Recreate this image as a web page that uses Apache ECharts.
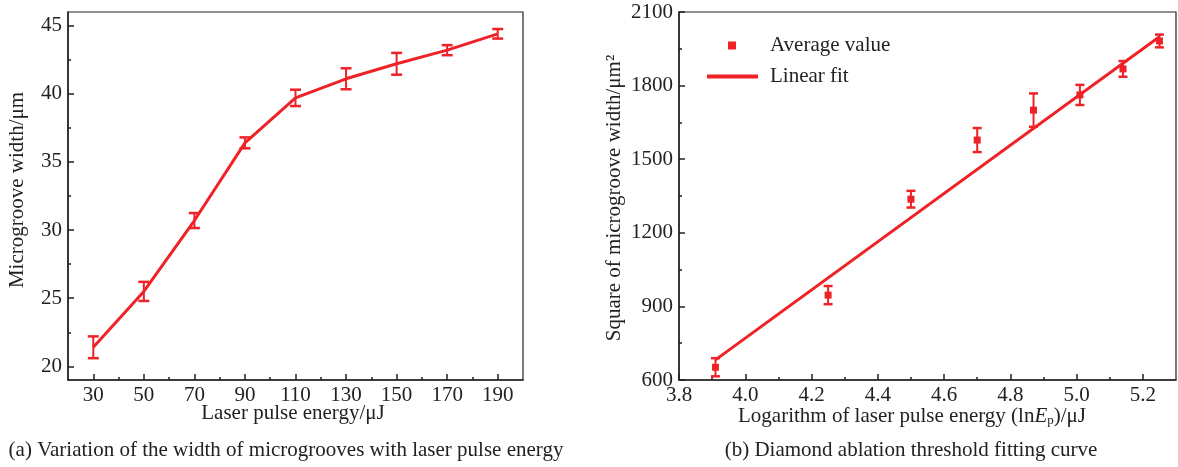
<!DOCTYPE html>
<html>
<head>
<meta charset="utf-8">
<script src="https://cdn.jsdelivr.net/npm/echarts@6.0.0/dist/echarts.min.js"></script>
<style>
html, body { margin: 0; padding: 0; background: #fff; }
#main { width: 1178px; height: 467px; }
</style>
</head>
<body>
<div id="main"></div>
<script>
// (a) width vs pulse energy
var energy = [30, 50, 70, 90, 110, 130, 150, 170, 190];
var grooveWidth = [21.4, 25.5, 30.7, 36.4, 39.7, 41.1, 42.2, 43.2, 44.4];
var grooveErr = [0.8, 0.7, 0.55, 0.4, 0.6, 0.77, 0.8, 0.37, 0.35];

// (b) squared width vs ln(E)
var lnEnergy = [3.91, 4.25, 4.50, 4.70, 4.87, 5.01, 5.14, 5.25];
var widthSq = [652, 946, 1337, 1578, 1700, 1762, 1868, 1982];
var widthSqErr = [37, 37, 34, 49, 68, 41, 32, 26];
var fitX = [3.91, 5.25];
var fitY = [682, 1999];

// ticks
var xTicksA = [30, 50, 70, 90, 110, 130, 150, 170, 190];
var xMinorA = [40, 60, 80, 100, 120, 140, 160, 180];
var yTicksA = [20, 25, 30, 35, 40, 45];
var yMinorA = [22.5, 27.5, 32.5, 37.5, 42.5];
var xTicksB = [3.8, 4.0, 4.2, 4.4, 4.6, 4.8, 5.0, 5.2];
var xMinorB = [3.9, 4.1, 4.3, 4.5, 4.7, 4.9, 5.1];
var yTicksB = [600, 900, 1200, 1500, 1800, 2100];
var yMinorB = [750, 1050, 1350, 1650, 1950];

var red = '#ee2227';
var ink = '#222';
var font = 'Liberation Serif';
var fs = 21;

var myChart = echarts.init(document.getElementById('main'));

function pairs(xs, ys) {
    return xs.map(function (x, i) { return [x, ys[i]]; });
}
function errData(xs, ys, es) {
    return xs.map(function (x, i) { return [x, ys[i] - es[i], ys[i] + es[i]]; });
}

function errorBars(capHalf) {
    return function (params, api) {
        var x = api.value(0);
        var lo = api.coord([x, api.value(1)]);
        var hi = api.coord([x, api.value(2)]);
        var st = { stroke: red, lineWidth: 2 };
        var cap = { stroke: red, lineWidth: 2.5 };
        return {
            type: 'group',
            children: [
                { type: 'line', shape: { x1: lo[0], y1: lo[1], x2: hi[0], y2: hi[1] }, style: st },
                { type: 'line', shape: { x1: lo[0] - capHalf, y1: lo[1], x2: lo[0] + capHalf, y2: lo[1] }, style: cap },
                { type: 'line', shape: { x1: hi[0] - capHalf, y1: hi[1], x2: hi[0] + capHalf, y2: hi[1] }, style: cap }
            ]
        };
    };
}

// main axis (labels + major ticks) and a twin for the minor ticks
function axisPair(dim, grid, min, max, majors, minors, fmt) {
    var pos = dim === 'x' ? 'bottom' : 'left';
    var main = {
        type: 'value', gridIndex: grid, position: pos, min: min, max: max,
        axisLine: { show: true, lineStyle: { color: ink, width: 1.5 } },
        axisTick: { show: true, inside: true, length: 6, customValues: majors, lineStyle: { color: ink, width: 1.5 } },
        axisLabel: { customValues: majors, color: ink, fontFamily: font, fontSize: fs, margin: dim === 'x' ? 5 : 6, formatter: fmt },
        splitLine: { show: false }
    };
    var minor = {
        type: 'value', gridIndex: grid, position: pos, offset: 0, min: min, max: max,
        axisLine: { show: false },
        axisTick: { show: true, inside: true, length: 3, customValues: minors, lineStyle: { color: ink, width: 1.5 } },
        axisLabel: { show: false },
        splitLine: { show: false }
    };
    return [main, minor];
}

var plain = function (v) { return String(v); };
var xa = axisPair('x', 0, 20, 200, xTicksA, xMinorA, plain);
var ya = axisPair('y', 0, 19, 46, yTicksA, yMinorA, plain);
var xb = axisPair('x', 1, 3.8, 5.3, xTicksB, xMinorB, function (v) { return v.toFixed(1); });
var yb = axisPair('y', 1, 600, 2100, yTicksB, yMinorB, plain);

var textStyle = { fill: ink, font: fs + 'px "Liberation Serif"', textAlign: 'center', textVerticalAlign: 'middle' };
function label(text, x, y, rot, extra) {
    var st = Object.assign({ text: text }, textStyle, extra || {});
    return { type: 'text', x: x, y: y, rotation: rot || 0, style: st, z: 10 };
}

option = {
    animation: false,
    backgroundColor: '#fff',
    grid: [
        { left: 68, top: 12, width: 455, height: 368, show: true, borderColor: ink, borderWidth: 1.2 },
        { left: 679, top: 12, width: 497, height: 368, show: true, borderColor: ink, borderWidth: 1.2 }
    ],
    xAxis: [xa[0], xa[1], xb[0], xb[1]],
    yAxis: [ya[0], ya[1], yb[0], yb[1]],
    legend: [
        {
            data: ['Average value'], left: 728, top: 35, padding: 0, icon: 'rect', itemWidth: 8, itemHeight: 8,
            selectedMode: false,
            textStyle: { color: ink, fontFamily: font, fontSize: fs, padding: [0, 0, 0, 29] }
        },
        {
            data: ['Linear fit'], left: 707, top: 66, padding: 0, icon: 'rect', itemWidth: 51, itemHeight: 4,
            selectedMode: false,
            textStyle: { color: ink, fontFamily: font, fontSize: fs, padding: [0, 0, 0, 7] }
        }
    ],
    graphic: [
        label('Microgroove width/\u03bcm', 17, 190, Math.PI / 2),
        label('Laser pulse energy/\u03bcJ', 293, 413),
        label('(a) Variation of the width of microgrooves with laser pulse energy', 286, 450),
        label('Square of microgroove width/\u03bcm\u00b2', 614, 198, Math.PI / 2),
        label('{a|Logarithm of laser pulse energy (ln}{i|E}{s|p}{a|)/\u03bcJ}', 912, 416, 0, {
            rich: {
                a: { fontFamily: font, fontSize: fs, color: ink },
                i: { fontFamily: font, fontSize: fs, fontStyle: 'italic', color: ink },
                s: { fontFamily: font, fontSize: 13, color: ink, padding: [10, 0, 0, 0] }
            }
        }),
        label('(b) Diamond ablation threshold fitting curve', 911, 450)
    ],
    series: [
        {
            name: 'Width', type: 'line', xAxisIndex: 0, yAxisIndex: 0,
            data: pairs(energy, grooveWidth), showSymbol: false,
            lineStyle: { color: red, width: 3 }, itemStyle: { color: red }, z: 3
        },
        {
            name: 'Width error', type: 'custom', xAxisIndex: 0, yAxisIndex: 0,
            data: errData(energy, grooveWidth, grooveErr),
            encode: { x: 0, y: [1, 2] }, renderItem: errorBars(5.5), z: 4
        },
        {
            name: 'Linear fit', type: 'line', xAxisIndex: 2, yAxisIndex: 2,
            data: pairs(fitX, fitY), showSymbol: false,
            lineStyle: { color: red, width: 3 }, itemStyle: { color: red }, z: 3
        },
        {
            name: 'Sq error', type: 'custom', xAxisIndex: 2, yAxisIndex: 2,
            data: errData(lnEnergy, widthSq, widthSqErr),
            encode: { x: 0, y: [1, 2] }, renderItem: errorBars(4.5), z: 4
        },
        {
            name: 'Average value', type: 'scatter', xAxisIndex: 2, yAxisIndex: 2,
            data: pairs(lnEnergy, widthSq), symbol: 'rect', symbolSize: 7,
            itemStyle: { color: red, opacity: 1 }, z: 5
        }
    ]
};

myChart.setOption(option);
</script>
</body>
</html>
